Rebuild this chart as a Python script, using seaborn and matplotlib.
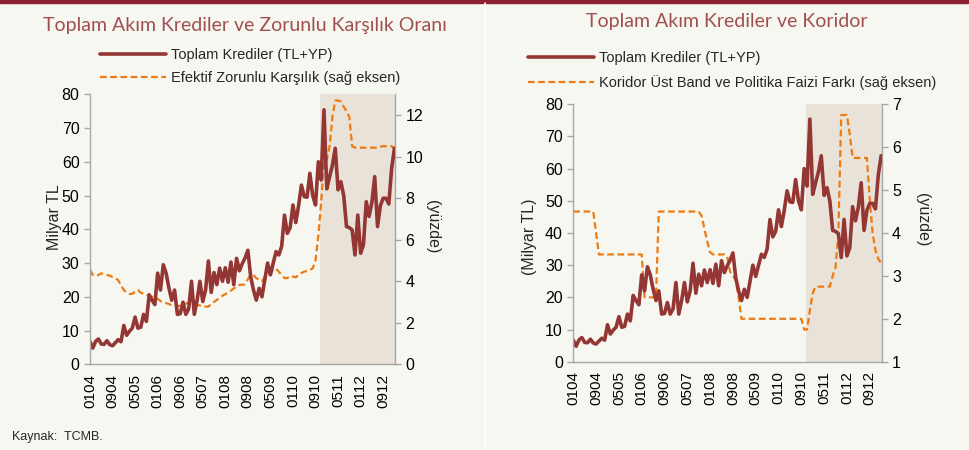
import matplotlib
matplotlib.use("Agg")
import matplotlib.pyplot as plt
import seaborn as sns
import numpy as np
import pandas as pd
from matplotlib.lines import Line2D

# ---------------- data (monthly, Jan 2004 .. Jan 2013) ----------------
credit_total = [6.7, 4.8, 6.8, 7.5, 6.0, 5.9, 7.0, 5.8, 5.5, 6.4, 7.3, 6.7,
                11.5, 8.6, 9.8, 10.7, 14.0, 10.7, 11.0, 14.8, 12.7, 20.6, 19.0, 17.7,
                27.0, 22.0, 29.5, 27.0, 22.6, 19.0, 22.0, 14.8, 15.0, 18.4, 14.8, 16.4,
                24.6, 14.8, 19.0, 24.6, 18.6, 22.0, 30.6, 21.3, 27.2, 23.6, 28.5, 24.6,
                28.6, 24.3, 30.3, 23.6, 31.4, 27.7, 29.8, 31.5, 33.8, 26.0, 22.0, 19.0,
                22.5, 20.0, 25.0, 30.0, 26.5, 30.0, 33.4, 32.4, 35.0, 44.2, 38.8, 40.5,
                47.2, 42.0, 47.0, 53.1, 49.7, 49.5, 56.6, 50.0, 47.2, 60.0, 54.6, 75.4,
                52.0, 55.6, 59.0, 64.0, 51.7, 54.1, 50.0, 40.8, 40.5, 39.8, 32.4, 44.2,
                32.9, 35.4, 48.2, 43.8, 48.0, 55.6, 40.8, 47.0, 49.2, 49.2, 47.5, 58.0,
                64.0]

reserve_ratio = [4.55, 4.30, 4.27, 4.30, 4.38, 4.35, 4.30, 4.27, 4.20, 4.15, 4.05, 3.80,
                 3.58, 3.45, 3.39, 3.39, 3.50, 3.58, 3.45, 3.40, 3.35, 3.30, 3.25, 3.20,
                 3.15, 3.05, 2.97, 2.95, 2.90, 2.85, 2.81, 2.80, 2.82, 2.85, 2.92, 2.97,
                 2.95, 2.90, 2.86, 2.83, 2.80, 2.78, 2.78, 2.90, 3.00, 3.10, 3.20, 3.30,
                 3.38, 3.45, 3.55, 3.65, 3.75, 3.82, 3.83, 3.85, 4.10, 4.30, 4.30, 4.15,
                 4.06, 4.00, 4.20, 4.35, 4.46, 4.55, 4.62, 4.45, 4.30, 4.15, 4.15, 4.25,
                 4.22, 4.19, 4.30, 4.40, 4.46, 4.50, 4.55, 4.62, 5.00, 6.20, 7.80, 9.80,
                 9.84, 10.50, 11.90, 12.70, 12.70, 12.65, 12.40, 12.20, 11.90, 10.50, 10.43, 10.43,
                 10.43, 10.43, 10.43, 10.43, 10.43, 10.43, 10.43, 10.48, 10.50, 10.50, 10.50, 10.50,
                 10.40]

corridor_spread = [4.5, 4.5, 4.5, 4.5, 4.5, 4.5, 4.5, 4.5, 4.0, 3.5, 3.5, 3.5,
                   3.5, 3.5, 3.5, 3.5, 3.5, 3.5, 3.5, 3.5, 3.5, 3.5, 3.5, 3.5,
                   3.5, 2.5, 2.5, 2.5, 2.5, 2.5, 4.5, 4.5, 4.5, 4.5, 4.5, 4.5,
                   4.5, 4.5, 4.5, 4.5, 4.5, 4.5, 4.5, 4.5, 4.5, 4.4, 4.1, 3.8,
                   3.55, 3.5, 3.5, 3.5, 3.5, 3.5, 3.45, 3.1, 3.0, 2.9, 2.5, 2.0,
                   2.0, 2.0, 2.0, 2.0, 2.0, 2.0, 2.0, 2.0, 2.0, 2.0, 2.0, 2.0,
                   2.0, 2.0, 2.0, 2.0, 2.0, 2.0, 2.0, 2.0, 2.0, 1.75, 1.75, 2.2,
                   2.6, 2.75, 2.75, 2.75, 2.75, 2.75, 2.75, 3.0, 3.2, 4.0, 6.75, 6.75,
                   6.75, 6.3, 5.75, 5.75, 5.75, 5.75, 5.75, 5.75, 4.8, 4.0, 3.6, 3.4,
                   3.3]

tick_labels = ["0104", "0904", "0505", "0106", "0906", "0507", "0108", "0908",
               "0509", "0110", "0910", "0511", "0112", "0912"]

months = np.arange(len(credit_total))
df = pd.DataFrame({"m": months, "credit": credit_total,
                   "rr": reserve_ratio, "corr": corridor_spread})

# ---------------- style ----------------
sns.set_theme(style="white")
plt.rcParams["font.family"] = ["Liberation Sans", "DejaVu Sans"]

BG = "#F7F7F2"
RED = "#943634"
ORANGE = "#EE7A12"
SHADE = "#E9E2D8"
SPINE = "#A6A6A6"
TITLE = "#A0504E"
DASH = (0, (3.0, 1.6))

fig = plt.figure(figsize=(9.7, 4.5), dpi=100, facecolor=BG)

# top band and separator
fig.add_artist(plt.Rectangle((0, 1 - 3 / 450), 1, 3 / 450, transform=fig.transFigure,
                             color="#8B2030", zorder=0))
fig.add_artist(Line2D([485 / 970, 485 / 970], [0, 1 - 3 / 450], transform=fig.transFigure,
                      color="#FFFFFF", lw=1.2))


def build(rect, right_col, ylim2, yticks2):
    ax = fig.add_axes(rect)
    ax2 = ax.twinx()
    sns.lineplot(data=df, x="m", y=right_col, ax=ax2, color=ORANGE, lw=1.6, linestyle=DASH)
    sns.lineplot(data=df, x="m", y="credit", ax=ax, color=RED, lw=2.6)
    for a in (ax, ax2):
        a.spines["top"].set_visible(False)
        for s in ("left", "right", "bottom"):
            a.spines[s].set_color(SPINE)
            a.spines[s].set_linewidth(1.0)
        a.tick_params(labelcolor="black", labelsize=11.5, length=4, width=1.0, color=SPINE)
    ax.spines["right"].set_visible(False)
    ax2.spines["left"].set_visible(False)
    ax2.spines["bottom"].set_visible(False)
    ax.set_ylim(0, 80)
    ax.set_yticks(range(0, 81, 10))
    ax2.set_ylim(*ylim2)
    ax2.set_yticks(yticks2)
    ax.set_xlim(0, 108.2)
    ax2.set_xlim(0, 108.2)
    ax.set_xticks(np.arange(0, 105, 8))
    ax.set_xticklabels(tick_labels, rotation=90, fontsize=11)
    ax.tick_params(axis="x", length=4, pad=3)
    ax.set_xlabel("")
    ax.set_ylabel("")
    ax2.set_ylabel("")
    # draw order: ax2 (shade + orange) below, ax (red line) above
    ax2.axvspan(81.7, 108.2, color=SHADE, lw=0, zorder=0)
    ax2.set_zorder(0)
    ax.set_zorder(1)
    ax.patch.set_visible(False)
    ax2.patch.set_visible(False)
    return ax, ax2


axL, axL2 = build([90 / 970, 1 - 364.3 / 450, 305 / 970, 270 / 450], "rr", (0, 13), range(0, 13, 2))
axR, axR2 = build([573.3 / 970, 1 - 361.7 / 450, 308.4 / 970, 257.4 / 450], "corr", (1, 7), range(1, 8))

# ---- titles ----
fig.text(245 / 970, 1 - 25 / 450, "Toplam Akım Krediler ve Zorunlu Karşılık Oranı",
         ha="center", va="center", color=TITLE, fontsize=14, family=["Lato", "DejaVu Sans"])
fig.text(727 / 970, 1 - 22 / 450, "Toplam Akım Krediler ve Koridor",
         ha="center", va="center", color=TITLE, fontsize=14, family=["Lato", "DejaVu Sans"])

# ---- legends ----
hL = [Line2D([], [], color=RED, lw=2.6), Line2D([], [], color=ORANGE, lw=1.6, linestyle=DASH)]
fig.legend(hL, ["Toplam Krediler (TL+YP)", "Efektif Zorunlu Karşılık (sağ eksen)"],
           loc="upper left", bbox_to_anchor=(93 / 970, 1 - 41 / 450), frameon=False,
           fontsize=10.5, handlelength=4.5, handletextpad=0.35, labelspacing=0.6, borderpad=0)
fig.legend(hL, ["Toplam Krediler (TL+YP)", "Koridor Üst Band ve Politika Faizi Farkı (sağ eksen)"],
           loc="upper left", bbox_to_anchor=(521 / 970, 1 - 44 / 450), frameon=False,
           fontsize=10.5, handlelength=4.5, handletextpad=0.35, labelspacing=0.65, borderpad=0)

# ---- axis labels ----
fig.text(54 / 970, 1 - 217 / 450, "Milyar TL", rotation=90, ha="center", va="center", fontsize=11.5)
fig.text(433 / 970, 1 - 227 / 450, "(yüzde)", rotation=270, ha="center", va="center", fontsize=11.5)
fig.text(530 / 970, 1 - 237 / 450, "(Milyar TL)", rotation=90, ha="center", va="center", fontsize=11.5)
fig.text(923 / 970, 1 - 220 / 450, "(yüzde)", rotation=270, ha="center", va="center", fontsize=11.5)

fig.text(12 / 970, 1 - 437 / 450, "Kaynak:  TCMB.", ha="left", va="center", fontsize=9)

fig.savefig("out.png", dpi=100, facecolor=BG)
